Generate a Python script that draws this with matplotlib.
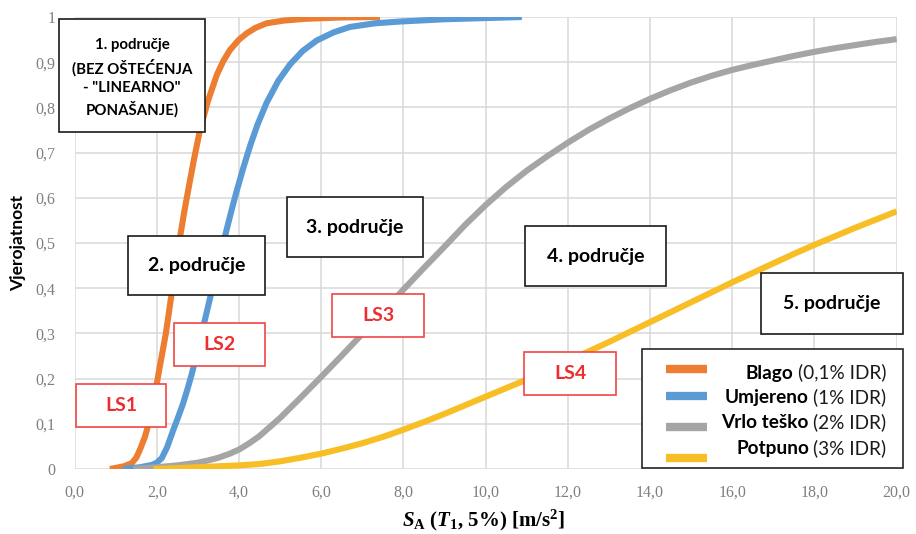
import matplotlib
matplotlib.use('Agg')
import matplotlib.pyplot as plt
from matplotlib.patches import Rectangle
from matplotlib.lines import Line2D

# ---------------- data ----------------
blago_x = [0.86, 1.20, 1.39, 1.50, 1.60, 1.71, 1.80, 1.88, 1.96, 2.04, 2.13, 2.22, 2.30, 2.38, 2.47,
           2.56, 2.66, 2.77, 2.90, 3.05, 3.25, 3.46, 3.62, 3.78, 4.00, 4.19, 4.40, 4.67, 5.08, 5.60,
           6.50, 7.43]
blago_y = [0.000, 0.006, 0.013, 0.025, 0.045, 0.071, 0.100, 0.130, 0.168, 0.210, 0.255, 0.300, 0.350,
           0.400, 0.455, 0.510, 0.565, 0.620, 0.683, 0.750, 0.816, 0.872, 0.903, 0.927, 0.950, 0.964,
           0.976, 0.986, 0.992, 0.996, 0.999, 1.000]

umjereno_x = [1.18, 1.60, 1.88, 2.00, 2.12, 2.25, 2.40, 2.52, 2.64, 2.75, 2.85, 3.00, 3.17, 3.30, 3.45,
              3.57, 3.70, 3.82, 3.94, 4.10, 4.27, 4.45, 4.67, 4.95, 5.24, 5.55, 5.89, 6.30, 6.70, 7.30,
              7.92, 9.00, 10.88]
umjereno_y = [0.000, 0.004, 0.009, 0.014, 0.024, 0.048, 0.086, 0.115, 0.145, 0.178, 0.210, 0.265, 0.330,
              0.380, 0.437, 0.482, 0.530, 0.573, 0.614, 0.665, 0.715, 0.762, 0.810, 0.858, 0.895, 0.925,
              0.948, 0.966, 0.978, 0.986, 0.990, 0.995, 1.000]

vrlo_tesko_x = [1.43, 2.00, 2.50, 3.00, 3.25, 3.50, 3.75, 4.00, 4.25, 4.50, 4.75, 5.00, 5.50, 6.00, 6.50,
                7.00, 7.50, 8.00, 8.50, 9.00, 9.50, 10.00, 10.50, 11.00, 11.50, 12.00, 12.50, 13.00,
                13.50, 14.00, 14.50, 15.00, 15.50, 16.00, 16.50, 17.00, 17.50, 18.00, 18.50, 19.00,
                19.50, 20.00]
vrlo_tesko_y = [0.000, 0.004, 0.008, 0.014, 0.019, 0.025, 0.033, 0.043, 0.057, 0.073, 0.093, 0.113, 0.158,
                0.204, 0.251, 0.299, 0.348, 0.397, 0.445, 0.492, 0.540, 0.584, 0.624, 0.660, 0.692, 0.722,
                0.750, 0.775, 0.798, 0.819, 0.838, 0.855, 0.870, 0.883, 0.894, 0.904, 0.914, 0.923, 0.931,
                0.938, 0.945, 0.951]

potpuno_x = [1.92, 2.50, 3.00, 3.50, 4.00, 4.50, 5.00, 5.50, 6.00, 6.50, 7.00, 7.50, 8.00, 8.50, 9.00,
             9.50, 10.00, 10.50, 11.00, 11.50, 12.00, 12.50, 13.00, 13.50, 14.00, 14.50, 15.00, 15.50,
             16.00, 16.50, 17.00, 17.50, 18.00, 18.50, 19.00, 19.50, 20.00]
potpuno_y = [0.000, 0.002, 0.004, 0.006, 0.008, 0.011, 0.017, 0.025, 0.034, 0.045, 0.057, 0.071, 0.087,
             0.104, 0.122, 0.141, 0.160, 0.179, 0.198, 0.218, 0.239, 0.260, 0.281, 0.303, 0.325, 0.347,
             0.369, 0.391, 0.413, 0.434, 0.455, 0.476, 0.496, 0.515, 0.534, 0.552, 0.570]

series_names = ['Blago', 'Umjereno', 'Vrlo teško', 'Potpuno']
series_notes = ['(0,1% IDR)', '(1% IDR)', '(2% IDR)', '(3% IDR)']
series_colors = ['#ED7D31', '#5B9BD5', '#A5A5A5', '#F7BE25']

x_ticks = [0, 2, 4, 6, 8, 10, 12, 14, 16, 18, 20]
x_tick_labels = ['0,0', '2,0', '4,0', '6,0', '8,0', '10,0', '12,0', '14,0', '16,0', '18,0', '20,0']
y_ticks = [0, 0.1, 0.2, 0.3, 0.4, 0.5, 0.6, 0.7, 0.8, 0.9, 1.0]
y_tick_labels = ['0', '0,1', '0,2', '0,3', '0,4', '0,5', '0,6', '0,7', '0,8', '0,9', '1']

region_labels = ['1. područje\n(BEZ OŠTEĆENJA\n- "LINEARNO"\nPONAŠANJE)',
                 '2. područje', '3. područje', '4. područje', '5. područje']
ls_labels = ['LS1', 'LS2', 'LS3', 'LS4']

y_label = 'Vjerojatnost'
x_label = r'$S_\mathrm{A}$ ($T_\mathrm{1}$, 5%) [m/s$^\mathrm{2}$]'

# ---------------- style ----------------
W, H = 916, 534
plt.rcParams['mathtext.fontset'] = 'custom'
plt.rcParams['mathtext.rm'] = 'Liberation Serif:bold'
plt.rcParams['mathtext.it'] = 'Liberation Serif:italic:bold'
plt.rcParams['mathtext.bf'] = 'Liberation Serif:bold'

SANS = 'Lato'
SERIF = 'Liberation Serif'

fig = plt.figure(figsize=(W / 100, H / 100), dpi=100)
ax_l, ax_r, ax_t, ax_b = 74.6, 896.7, 17.0, 469.0
ax = fig.add_axes([ax_l / W, 1 - ax_b / H, (ax_r - ax_l) / W, (ax_b - ax_t) / H])

series = [(blago_x, blago_y), (umjereno_x, umjereno_y),
          (vrlo_tesko_x, vrlo_tesko_y), (potpuno_x, potpuno_y)]
for (xs, ys), c in zip(series, series_colors):
    ax.plot(xs, ys, color=c, lw=4.4, solid_joinstyle='round',
            solid_capstyle='butt', zorder=3)

ax.set_xlim(0, 20)
ax.set_ylim(0, 1)
ax.set_xticks(x_ticks)
ax.set_xticklabels(x_tick_labels)
ax.set_yticks(y_ticks)
ax.set_yticklabels(y_tick_labels)
ax.grid(True, color='#D9D9D9', lw=1.1, zorder=0)
ax.set_axisbelow(True)
for s in ax.spines.values():
    s.set_visible(False)
ax.tick_params(length=0, labelsize=11.5, labelcolor='#7F7F7F')
ax.tick_params(axis='x', pad=11)
ax.tick_params(axis='y', pad=14)
for lab in ax.get_xticklabels() + ax.get_yticklabels():
    lab.set_fontfamily(SERIF)


def px_box(x0, y0, x1, y1, text, ec, tc, fs, ls=1.0, dy=0.0):
    r = Rectangle((x0 / W, 1 - y1 / H), (x1 - x0) / W, (y1 - y0) / H,
                  transform=fig.transFigure, fc='white', ec=ec, lw=1.2,
                  zorder=6, clip_on=False)
    ax.add_patch(r)
    ax.text((x0 + x1) / 2 / W, 1 - ((y0 + y1) / 2 + dy) / H, text,
            transform=fig.transFigure, ha='center', va='center',
            fontsize=fs, fontweight='bold', color=tc, fontfamily=SANS,
            linespacing=ls, zorder=7, clip_on=False)


region_boxes = [(59, 19, 205, 132), (128, 236, 265, 295), (287, 197, 423, 257),
                (525, 226, 666, 286), (761, 273, 903, 334)]
region_fs = [10.8, 14, 14, 14, 14]
region_dy = [2.5, 0, 0, 0, 0]
for bx, lab, fs, dy in zip(region_boxes, region_labels, region_fs, region_dy):
    px_box(*bx, lab, '#1A1A1A', 'black', fs, ls=1.45, dy=dy)

ls_boxes = [(76, 384, 166, 427), (174, 323, 265, 366), (332, 294, 424, 337), (524, 352, 616, 395)]
for bx, lab in zip(ls_boxes, ls_labels):
    px_box(*bx, lab, '#F04545', '#EE2E2E', 14)

# axis labels
fig.text(18 / W, 1 - 243 / H, y_label, rotation=90, ha='center', va='center',
         fontsize=12.5, fontweight='bold', fontfamily=SANS)
fig.text(484 / W, 1 - 520 / H, x_label, ha='center', va='center',
         fontsize=15, fontweight='bold', fontfamily=SERIF)

# legend (drawn by hand to follow the reference layout)
leg = Rectangle((642 / W, 1 - 468 / H), (903 - 642) / W, (468 - 349) / H,
                transform=fig.transFigure, fc='white', ec='#262626', lw=1.2,
                zorder=6, clip_on=False)
ax.add_patch(leg)
handle_y = [368.5, 395.5, 426.5, 458.0]
text_base = [378.5, 403.0, 428.5, 454.0]
notes = []
for hy, tb, c, note in zip(handle_y, text_base, series_colors, series_notes):
    ax.add_line(Line2D([666 / W, 707 / W], [1 - hy / H, 1 - hy / H], color=c,
                       lw=6.0, solid_capstyle='butt', transform=fig.transFigure,
                       zorder=7, clip_on=False))
    t = ax.text(886 / W, 1 - tb / H, note, transform=fig.transFigure,
                ha='right', va='baseline', fontsize=13.7, fontfamily=SANS,
                color='#1A1A1A', zorder=7, clip_on=False)
    notes.append(t)

fig.canvas.draw()
renderer = fig.canvas.get_renderer()
for t, name, tb in zip(notes, series_names, text_base):
    bb = t.get_window_extent(renderer)
    ax.text((bb.x0 - 4) / W, 1 - tb / H, name, transform=fig.transFigure,
            ha='right', va='baseline', fontsize=13.7, fontweight='bold',
            fontfamily=SANS, color='black', zorder=7, clip_on=False)

fig.savefig('out.png', dpi=100)
